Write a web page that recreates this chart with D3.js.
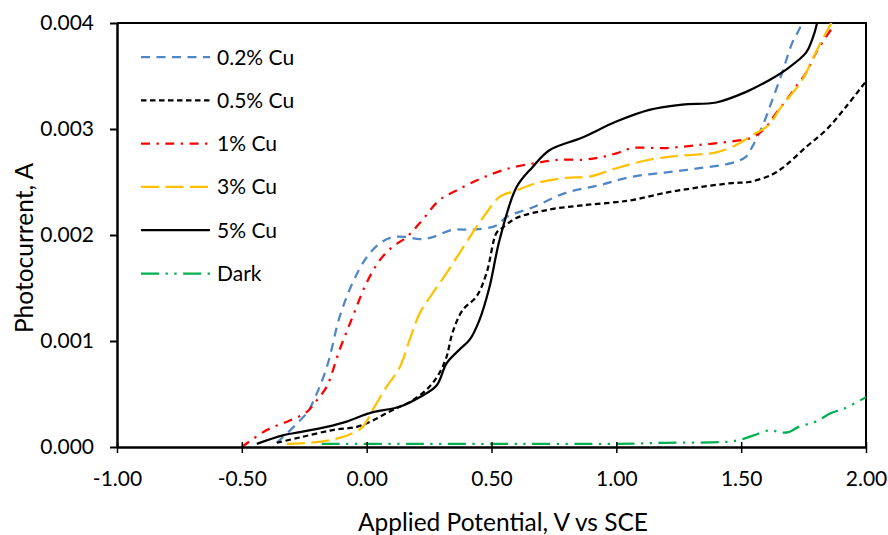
<!DOCTYPE html>
<html>
<head>
<meta charset="utf-8">
<script src="https://cdn.jsdelivr.net/npm/d3@7"></script>
<style>
  body { margin: 0; background: #fff; }
  svg text { font-family: Lato, "Open Sans", sans-serif; fill: #000; }
</style>
</head>
<body>
<div id="chart"></div>
<script>
// readings: [potential V, photocurrent A]
const cu02 = [[-0.36,0.00004],[-0.24,0.00032],[-0.216,0.00042],[-0.16,0.00075],[-0.108,0.00123],[-0.056,0.00155],[0.0,0.00179],[0.052,0.00192],[0.104,0.00198],[0.16,0.00198],[0.212,0.00196],[0.264,0.00198],[0.344,0.00205],[0.424,0.00205],[0.52,0.00209],[0.56,0.00217],[0.664,0.00226],[0.80,0.0024],[0.932,0.00247],[1.064,0.00255],[1.2,0.00259],[1.332,0.00263],[1.464,0.00268],[1.52,0.00274],[1.544,0.00283],[1.584,0.00302],[1.624,0.00327],[1.664,0.00353],[1.704,0.00381],[1.74,0.00398],[1.76,0.0042]];
const cu05 = [[-0.36,0.00004],[-0.268,0.00009],[-0.136,0.00016],[-0.04,0.00019],[0.024,0.00025],[0.104,0.00035],[0.184,0.00044],[0.252,0.00057],[0.292,0.0007],[0.32,0.00085],[0.344,0.00108],[0.384,0.00129],[0.44,0.00142],[0.48,0.00164],[0.52,0.00202],[0.54,0.00206],[0.6,0.00216],[0.732,0.00224],[0.864,0.00228],[1.0,0.00231],[1.064,0.00233],[1.2,0.0024],[1.332,0.00245],[1.464,0.00249],[1.532,0.0025],[1.624,0.00257],[1.68,0.00266],[1.76,0.00283],[1.84,0.00299],[1.92,0.00321],[2.0,0.00345]];
const cu1 = [[-0.5,0.0],[-0.4,0.00016],[-0.308,0.00025],[-0.24,0.00033],[-0.2,0.00044],[-0.16,0.00057],[-0.108,0.00092],[-0.056,0.00123],[0.0,0.00155],[0.052,0.00176],[0.104,0.00189],[0.16,0.00198],[0.212,0.00211],[0.292,0.00233],[0.36,0.00242],[0.464,0.00254],[0.572,0.00263],[0.68,0.00268],[0.772,0.00271],[0.864,0.00271],[0.932,0.00273],[1.0,0.00277],[1.064,0.00282],[1.2,0.00282],[1.332,0.00285],[1.452,0.00288],[1.544,0.00292],[1.6,0.00302],[1.64,0.00315],[1.68,0.00327],[1.72,0.0034],[1.76,0.00353],[1.8,0.00372],[1.84,0.00387],[1.864,0.00395]];
const cu3 = [[-0.32,0.00003],[-0.228,0.00004],[-0.136,0.00007],[-0.056,0.00013],[-0.016,0.00019],[0.024,0.00035],[0.08,0.00057],[0.132,0.00075],[0.172,0.00101],[0.212,0.00126],[0.264,0.00145],[0.32,0.00164],[0.372,0.00183],[0.424,0.00202],[0.48,0.00221],[0.532,0.00236],[0.6,0.00242],[0.68,0.00249],[0.8,0.00254],[0.892,0.00255],[1.0,0.00263],[1.132,0.00271],[1.264,0.00275],[1.4,0.00278],[1.48,0.00285],[1.544,0.00294],[1.612,0.00304],[1.652,0.00318],[1.692,0.0033],[1.744,0.00346],[1.784,0.00365],[1.824,0.00384],[1.86,0.004],[1.87,0.0041]];
const cu5 = [[-0.44,0.00003],[-0.336,0.00011],[-0.268,0.00014],[-0.16,0.00019],[-0.08,0.00024],[0.012,0.00032],[0.132,0.00038],[0.212,0.00047],[0.28,0.00058],[0.32,0.00079],[0.372,0.00092],[0.412,0.00101],[0.452,0.0012],[0.492,0.00151],[0.532,0.00195],[0.6,0.00245],[0.664,0.00264],[0.732,0.0028],[0.864,0.00292],[1.0,0.00307],[1.132,0.00318],[1.264,0.00323],[1.4,0.00325],[1.52,0.00335],[1.612,0.00346],[1.68,0.00356],[1.76,0.00372],[1.784,0.00384],[1.804,0.004],[1.81,0.0041]];
const dark = [[-0.18,0.00003],[0.2,0.00003],[0.6,0.00003],[1.0,0.00003],[1.2,0.00004],[1.45,0.00005],[1.5,0.00007],[1.55,0.00011],[1.62,0.00016],[1.65,0.00014],[1.69,0.00014],[1.73,0.00019],[1.8,0.00024],[1.86,0.00032],[1.91,0.00036],[2.0,0.00047]];

const seriesNames = ["0.2% Cu", "0.5% Cu", "1% Cu", "3% Cu", "5% Cu", "Dark"];
const seriesData = [cu02, cu05, cu1, cu3, cu5, dark];
const seriesColors = ["#4F86C6", "#000000", "#FF0000", "#FFC000", "#000000", "#00B050"];
const seriesDash = ["9,6.5", "5.5,3.5", "9,6.5,2.3,6.5", "18,6.5", null, "18,6.5,2.3,6.5,2.3,6.5"];

const xTicks = [-1, -0.5, 0, 0.5, 1, 1.5, 2];
const yTicks = [0, 0.001, 0.002, 0.003, 0.004];

const widthValue = 888, heightValue = 535;
const margin = { top: 23, right: 22, bottom: 88, left: 117 };
const width = widthValue - margin.left - margin.right;
const height = heightValue - margin.top - margin.bottom;

const svg = d3.select("#chart").append("svg")
  .attr("width", widthValue)
  .attr("height", heightValue);

const g = svg.append("g").attr("transform", `translate(${margin.left}, ${margin.top})`);

const xScale = d3.scaleLinear().domain([-1, 2]).range([0, width]);
const yScale = d3.scaleLinear().domain([0, 0.004]).range([height, 0]);

svg.append("defs").append("clipPath").attr("id", "plot-clip")
  .append("rect").attr("x", 0).attr("y", 0).attr("width", width).attr("height", height);

// plot border (top / right)
g.append("path")
  .attr("d", `M0,0H${width}V${height}`)
  .attr("fill", "none").attr("stroke", "#000").attr("stroke-width", 2);

// series
const line = d3.line()
  .x(d => xScale(d[0]))
  .y(d => yScale(d[1]))
  .curve(d3.curveCatmullRom.alpha(0.5));

const plot = g.append("g").attr("clip-path", "url(#plot-clip)");
seriesData.forEach((s, i) => {
  plot.append("path")
    .attr("d", line(s))
    .attr("fill", "none")
    .attr("stroke", seriesColors[i])
    .attr("stroke-width", 2.25)
    .attr("stroke-dasharray", seriesDash[i]);
});

// axes
const fmtX = d => d3.format(".2f")(d).replace("−", "-");
const xAxis = g.append("g")
  .attr("transform", `translate(0, ${height})`)
  .call(d3.axisBottom(xScale).tickValues(xTicks).tickFormat(fmtX).tickSize(6).tickSizeOuter(0));
xAxis.select(".domain").attr("stroke-width", 2.5);
xAxis.selectAll(".tick line").attr("y1", -5).attr("y2", 6).attr("stroke-width", 1.5);
xAxis.selectAll("text")
  .attr("y", 39).attr("dy", null)
  .style("font-size", "21px").style("font-family", "Lato, sans-serif");

const yAxis = g.append("g")
  .call(d3.axisLeft(yScale).tickValues(yTicks).tickFormat(d3.format(".3f")).tickSize(7).tickSizeOuter(0).tickPadding(16));
yAxis.select(".domain").attr("stroke-width", 2.5);
yAxis.selectAll(".tick line").attr("stroke-width", 2);
yAxis.selectAll("text").style("font-size", "21px").style("font-family", "Lato, sans-serif");

// axis titles
svg.append("text")
  .attr("x", 503).attr("y", 531)
  .attr("text-anchor", "middle")
  .style("font-size", "24.5px")
  .text("Applied Potential, V vs SCE");

svg.append("text")
  .attr("transform", "translate(33, 248) rotate(-90)")
  .attr("text-anchor", "middle")
  .style("font-size", "24.5px")
  .text("Photocurrent, A");

// legend
const legend = svg.append("g");
seriesNames.forEach((name, i) => {
  const y = 57 + i * 43.3;
  legend.append("line")
    .attr("x1", 141).attr("x2", 210).attr("y1", y).attr("y2", y)
    .attr("stroke", seriesColors[i])
    .attr("stroke-width", 2.25)
    .attr("stroke-dasharray", seriesDash[i]);
  legend.append("text")
    .attr("x", 217).attr("y", y + 7.5)
    .style("font-size", "21px")
    .text(name);
});
</script>
</body>
</html>
